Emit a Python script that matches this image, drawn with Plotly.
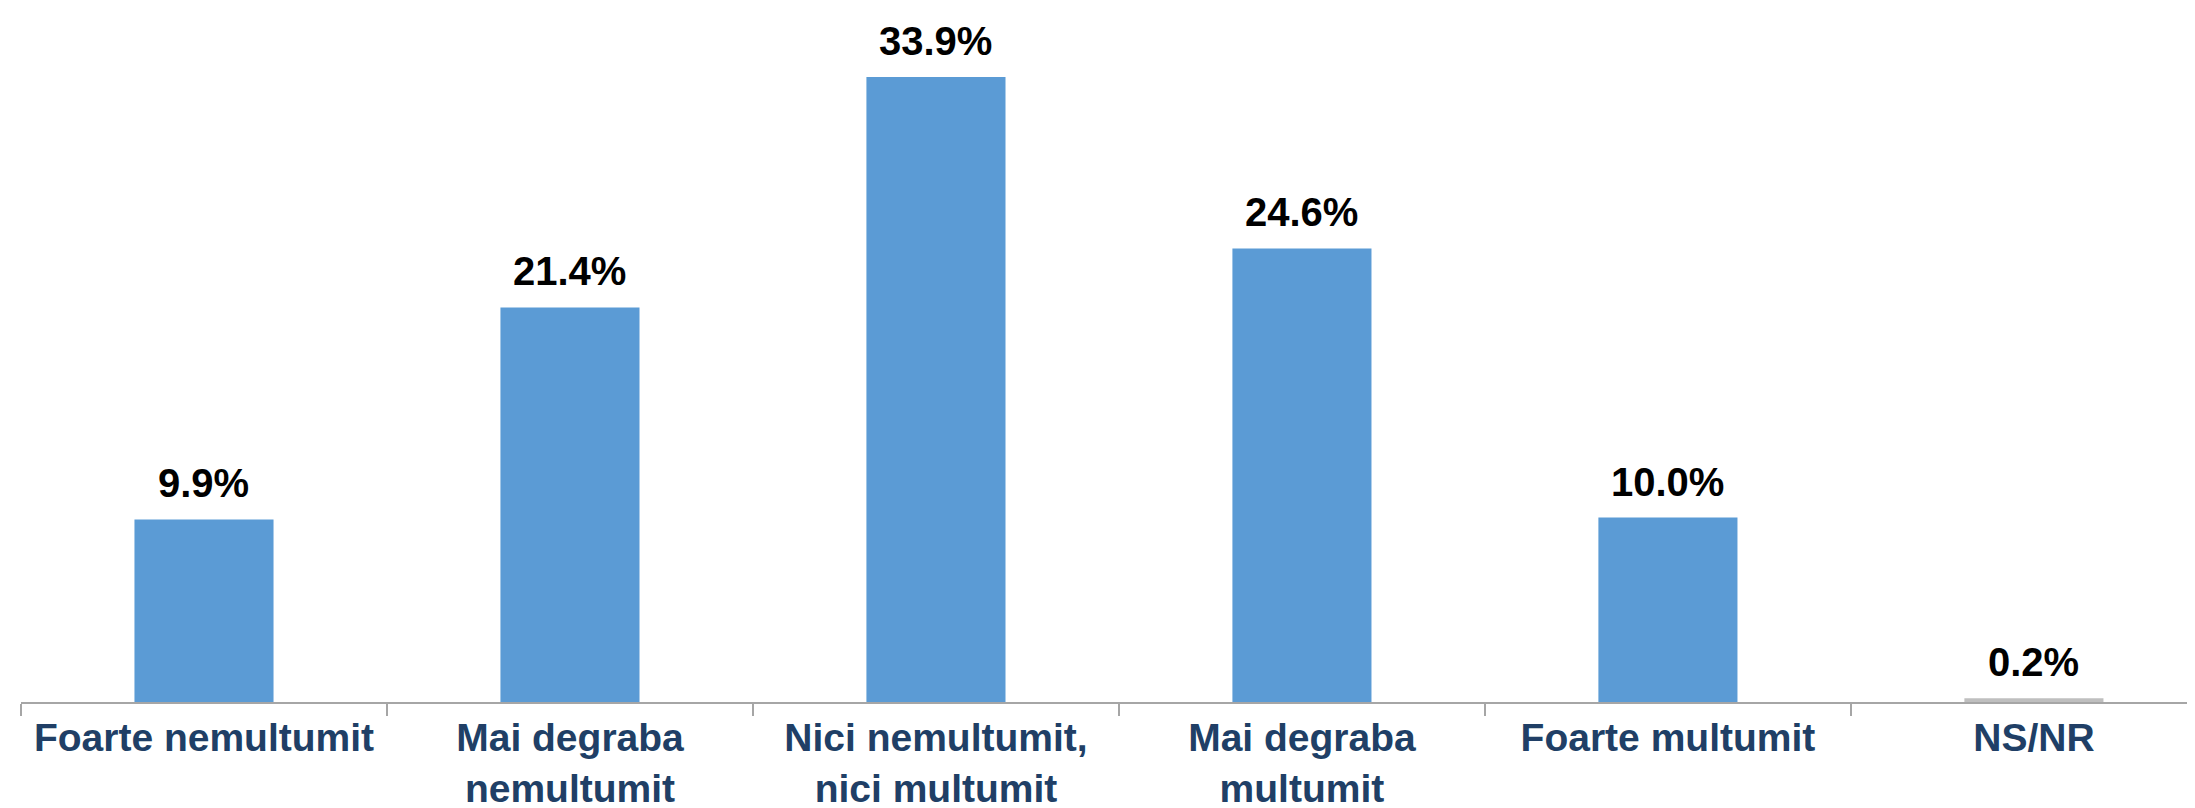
import plotly.graph_objects as go

# Data
categories = ["Foarte nemultumit", "Mai degraba<br>nemultumit", "Nici nemultumit,<br>nici multumit",
              "Mai degraba<br>multumit", "Foarte multumit", "NS/NR"]
values = [9.9, 21.4, 33.9, 24.6, 10.0, 0.2]
bar_colors = ["#5B9BD5", "#5B9BD5", "#5B9BD5", "#5B9BD5", "#5B9BD5", "#BFBFBF"]
labels = ["%.1f%%" % v for v in values]

fig = go.Figure()
fig.add_trace(go.Bar(
    x=categories,
    y=values,
    marker=dict(color=bar_colors, line=dict(width=0)),
    width=0.38,
    hoverinfo="skip",
))

# value labels above the bars
for cat, val, lab in zip(categories, values, labels):
    fig.add_annotation(
        x=cat, y=val, text="<b>%s</b>" % lab,
        showarrow=False, yanchor="bottom", yshift=12,
        font=dict(family="Liberation Sans, Arial, sans-serif", size=40, color="#000000"),
    )

fig.update_layout(
    width=2195, height=808,
    margin=dict(l=13, r=0, t=0, b=114),
    paper_bgcolor="white",
    plot_bgcolor="white",
    showlegend=False,
    font=dict(family="Liberation Sans, Arial, sans-serif"),
)

fig.update_xaxes(
    type="category",
    range=[-0.5, 5.462],
    automargin=False,
    tickangle=0,
    showline=True, linecolor="#A6A6A6", linewidth=2,
    ticks="outside", tickson="boundaries", ticklen=12, tickcolor="#A6A6A6", tickwidth=1.5,
    ticklabelstandoff=0,
    tickfont=dict(size=39, color="#203F66", family="Liberation Sans, Arial, sans-serif"),
    tickprefix="<b>", ticksuffix="</b>",
    showgrid=False, zeroline=False,
)
fig.update_yaxes(
    range=[0, 37.64],
    visible=False,
    showgrid=False, zeroline=False,
)

fig.write_html("out.html")
